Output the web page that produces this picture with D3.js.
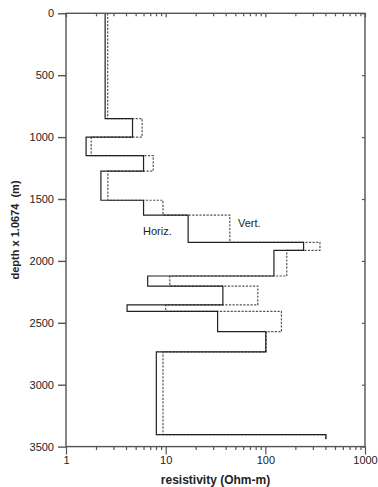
<!DOCTYPE html>
<html>
<head>
<meta charset="utf-8">
<script src="https://cdn.jsdelivr.net/npm/d3@7/dist/d3.min.js"></script>
<style>
  html, body { margin: 0; padding: 0; background: #fff; }
  svg { display: block; font-family: "Liberation Sans", Arial, Helvetica, sans-serif; }
</style>
</head>
<body>
<svg id="chart" width="378" height="487"></svg>
<script>
// Layered resistivity model: layer top depths, horizontal and vertical resistivities
const layerTops = [0, 850, 1000, 1150, 1275, 1510, 1630, 1850, 1915, 2122, 2203, 2356, 2407, 2572, 2735, 3404];
const modelBottom = 3440;
const horizRes = [2.47, 4.65, 1.59, 6.0, 2.24, 6.0, 16.8, 242, 122, 6.6, 37.5, 4.1, 33.2, 101, 8.06, 405];
const vertRes  = [2.62, 5.8, 1.79, 7.5, 2.63, 9.4, 44, 353, 164, 11.0, 84, 10.0, 145, 102, 9.4, 405];
const depthTicks = [0, 500, 1000, 1500, 2000, 2500, 3000, 3500];
const resTickLabels = [1, 10, 100, 1000];

const svg = d3.select("#chart");
const plotLeft = 66, plotRight = 365, plotTop = 13.3, plotBottom = 446.6;

const x = d3.scaleLog().domain([1, 1000]).range([plotLeft, plotRight]);
const y = d3.scaleLinear().domain([0, 3500]).range([plotTop, plotBottom]);

// minor + major log ticks
const logTicks = [];
for (let dec = 1; dec < 1000; dec *= 10) {
  for (let k = 1; k < 10; k++) logTicks.push(dec * k);
}
logTicks.push(1000);
const isMajor = v => resTickLabels.includes(v);

const axisColor = "#555";

// step profile through the layers
function profile(values) {
  const pts = [];
  values.forEach((v, i) => {
    const t = layerTops[i];
    const b = i + 1 < layerTops.length ? layerTops[i + 1] : modelBottom;
    pts.push([v, t], [v, b]);
  });
  return pts;
}
const line = d3.line().x(d => x(d[0])).y(d => y(d[1]));

// dashed vertical profile
svg.append("path")
  .attr("d", line(profile(vertRes)))
  .attr("fill", "none")
  .attr("stroke", "#555")
  .attr("stroke-width", 1.2)
  .attr("stroke-dasharray", "2.2,1.4");

// solid horizontal profile
svg.append("path")
  .attr("d", line(profile(horizRes)))
  .attr("fill", "none")
  .attr("stroke", "#222")
  .attr("stroke-width", 1.2);

// frame
svg.append("rect")
  .attr("x", plotLeft).attr("y", plotTop)
  .attr("width", plotRight - plotLeft).attr("height", plotBottom - plotTop)
  .attr("fill", "none").attr("stroke", axisColor).attr("stroke-width", 1.4);

// left axis: outward ticks with labels
const yAxis = d3.axisLeft(y).tickValues(depthTicks).tickSize(8).tickPadding(4).tickFormat(d3.format("d"));
const gy = svg.append("g").attr("transform", `translate(${plotLeft},0)`).call(yAxis);
gy.select(".domain").remove();
gy.selectAll(".tick line").attr("stroke", axisColor).attr("stroke-width", 1.4);
gy.selectAll(".tick text").attr("font-size", 11).attr("fill", "#222")
  .attr("font-family", "Liberation Sans, Arial, sans-serif");

// right axis: short inward ticks
const yAxisR = d3.axisLeft(y).tickValues(depthTicks).tickSize(3).tickFormat("");
const gyr = svg.append("g").attr("transform", `translate(${plotRight},0)`).call(yAxisR);
gyr.select(".domain").remove();
gyr.selectAll(".tick line").attr("stroke", axisColor).attr("stroke-width", 1.2);

// bottom axis: outward log ticks
const xAxis = d3.axisBottom(x).tickValues(logTicks)
  .tickSize(0).tickPadding(10)
  .tickFormat(d => isMajor(d) ? d3.format("d")(d) : "");
const gx = svg.append("g").attr("transform", `translate(0,${plotBottom})`).call(xAxis);
gx.select(".domain").remove();
gx.selectAll(".tick line")
  .attr("y2", d => isMajor(d) ? 8 : 3.5)
  .attr("stroke", axisColor).attr("stroke-width", 1.2);
gx.selectAll(".tick text").attr("font-size", 11).attr("fill", "#222")
  .attr("font-family", "Liberation Sans, Arial, sans-serif");

// top axis: inward log ticks
const xAxisT = d3.axisBottom(x).tickValues(logTicks).tickSize(0).tickFormat("");
const gxt = svg.append("g").attr("transform", `translate(0,${plotTop})`).call(xAxisT);
gxt.select(".domain").remove();
gxt.selectAll(".tick line")
  .attr("y2", d => isMajor(d) ? 4 : 3)
  .attr("stroke", axisColor).attr("stroke-width", 1.2);

// axis titles
svg.append("text")
  .attr("x", (plotLeft + plotRight) / 2).attr("y", 484)
  .attr("text-anchor", "middle")
  .attr("font-size", 12).attr("font-weight", "bold").attr("fill", "#222")
  .text("resistivity (Ohm-m)");

svg.append("text")
  .attr("transform", `translate(19,${(plotTop + plotBottom) / 2}) rotate(-90)`)
  .attr("text-anchor", "middle")
  .attr("font-size", 11).attr("font-weight", "bold").attr("fill", "#222")
  .attr("xml:space", "preserve")
  .text("depth x 1.0674  (m)");

// curve labels
svg.append("text").attr("x", 143).attr("y", 235)
  .attr("font-size", 11).attr("fill", "#222").text("Horiz.");
svg.append("text").attr("x", 238).attr("y", 227)
  .attr("font-size", 11).attr("fill", "#222").text("Vert.");
</script>
</body>
</html>
